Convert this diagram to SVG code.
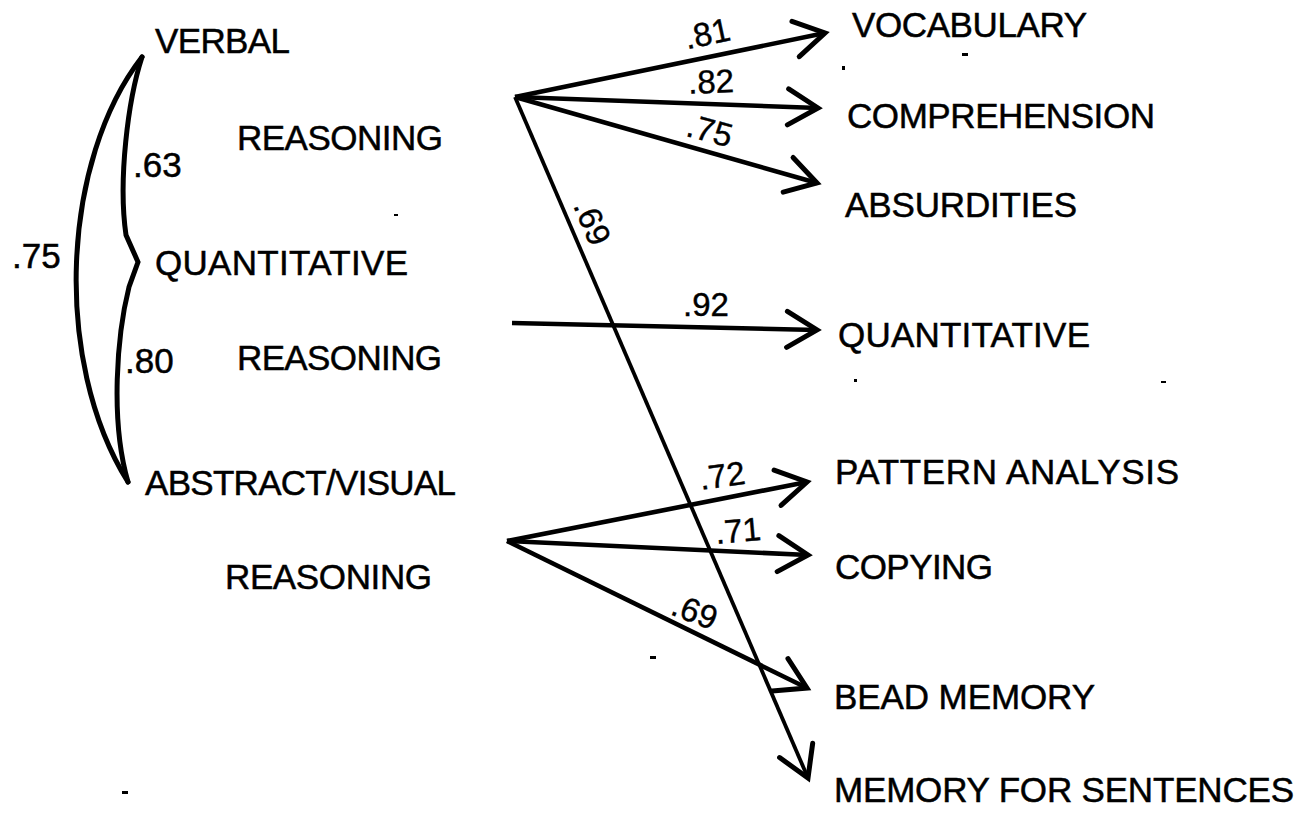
<svg xmlns="http://www.w3.org/2000/svg" width="1314" height="817" viewBox="0 0 1314 817">
<defs>
<style>
.t{font-family:"Liberation Sans",Arial,Helvetica,sans-serif;font-size:35px;fill:#000;stroke:#000;stroke-width:0.5;}
.n{font-family:"Liberation Sans",Arial,Helvetica,sans-serif;font-size:33px;fill:#000;stroke:#000;stroke-width:0.4;text-anchor:middle;}
.ln{fill:none;stroke:#000;stroke-width:4.6;stroke-linecap:butt;marker-end:url(#ah);}
.br{fill:none;stroke:#000;stroke-width:5;stroke-linejoin:miter;stroke-linecap:round;}
.sp{fill:#000;}
</style>
<marker id="ah" markerUnits="userSpaceOnUse" viewBox="-40 -25 45 50" refX="0" refY="0" markerWidth="45" markerHeight="50" orient="auto" overflow="visible">
<path d="M-30,-18 L0,0 L-30,18" fill="none" stroke="#000" stroke-width="5" stroke-linecap="round" stroke-linejoin="miter"/>
</marker>
</defs>
<rect width="1314" height="817" fill="#fff"/>

<g id="factor-verbal">
<text class="t" x="155" y="53" textLength="135" lengthAdjust="spacing">VERBAL</text>
<text class="t" x="237" y="150" textLength="206" lengthAdjust="spacing">REASONING</text>
</g>
<g id="factor-quantitative">
<text class="t" x="155" y="275" textLength="253" lengthAdjust="spacing">QUANTITATIVE</text>
<text class="t" x="237" y="370" textLength="205" lengthAdjust="spacing">REASONING</text>
</g>
<g id="factor-abstract">
<text class="t" x="145" y="495" textLength="311" lengthAdjust="spacing">ABSTRACT/VISUAL</text>
<text class="t" x="225" y="589" textLength="207" lengthAdjust="spacing">REASONING</text>
</g>

<g id="test-vocabulary"><text class="t" x="852" y="37" textLength="235" lengthAdjust="spacing">VOCABULARY</text></g>
<g id="test-comprehension"><text class="t" x="847" y="128" textLength="308" lengthAdjust="spacing">COMPREHENSION</text></g>
<g id="test-absurdities"><text class="t" x="845" y="217" textLength="232" lengthAdjust="spacing">ABSURDITIES</text></g>
<g id="test-quantitative"><text class="t" x="838" y="347" textLength="252" lengthAdjust="spacing">QUANTITATIVE</text></g>
<g id="test-pattern"><text class="t" x="835" y="484" textLength="344" lengthAdjust="spacing">PATTERN ANALYSIS</text></g>
<g id="test-copying"><text class="t" x="835" y="579" textLength="158" lengthAdjust="spacing">COPYING</text></g>
<g id="test-bead"><text class="t" x="834" y="709" textLength="261" lengthAdjust="spacing">BEAD MEMORY</text></g>
<g id="test-sentences"><text class="t" x="834" y="802" textLength="460" lengthAdjust="spacing">MEMORY FOR SENTENCES</text></g>

<g id="connectors">
<path class="br" d="M142,57 C62,160 52,360 128,482"/>
<path class="br" d="M142,57 C128,100 118,180 126,235 L138,262 L129,287 C117,335 110,420 128,482"/>
<text class="t" x="133" y="177">.63</text>
<text class="t" x="12" y="268">.75</text>
<text class="t" x="125" y="373">.80</text>

<line class="ln" x1="515" y1="97" x2="825" y2="33"/>
<line class="ln" x1="515" y1="97" x2="818" y2="108"/>
<line class="ln" x1="515" y1="97" x2="817" y2="183"/>
<line class="ln" x1="515" y1="97" x2="808" y2="778" style="stroke-width:3.8"/>
<line class="ln" x1="512" y1="323" x2="817" y2="330"/>
<line class="ln" x1="507" y1="541" x2="807" y2="482"/>
<line class="ln" x1="507" y1="541" x2="808" y2="555"/>
<line class="ln" x1="507" y1="541" x2="807" y2="688"/>

<text class="n" transform="translate(707,33) rotate(-12)" y="12">.81</text>
<text class="n" transform="translate(711,81) rotate(-2)" y="12">.82</text>
<text class="n" transform="translate(710,130) rotate(15)" y="12">.75</text>
<text class="n" transform="translate(593,222) rotate(67)" y="12">.69</text>
<text class="n" x="706" y="316">.92</text>
<text class="n" transform="translate(722,475) rotate(-8)" y="12">.72</text>
<text class="n" transform="translate(738,530) rotate(-5)" y="12">.71</text>
<text class="n" transform="translate(695,611) rotate(21)" y="12">.69</text>
</g>

<g id="specks">
<rect class="sp" x="962" y="53" width="6" height="3"/>
<rect class="sp" x="842" y="66" width="3" height="4"/>
<rect class="sp" x="394" y="214" width="4" height="2"/>
<rect class="sp" x="854" y="379" width="3" height="3"/>
<rect class="sp" x="1161" y="381" width="5" height="2"/>
<rect class="sp" x="650" y="656" width="6" height="3"/>
<rect class="sp" x="122" y="791" width="6" height="3"/>
</g>
</svg>
